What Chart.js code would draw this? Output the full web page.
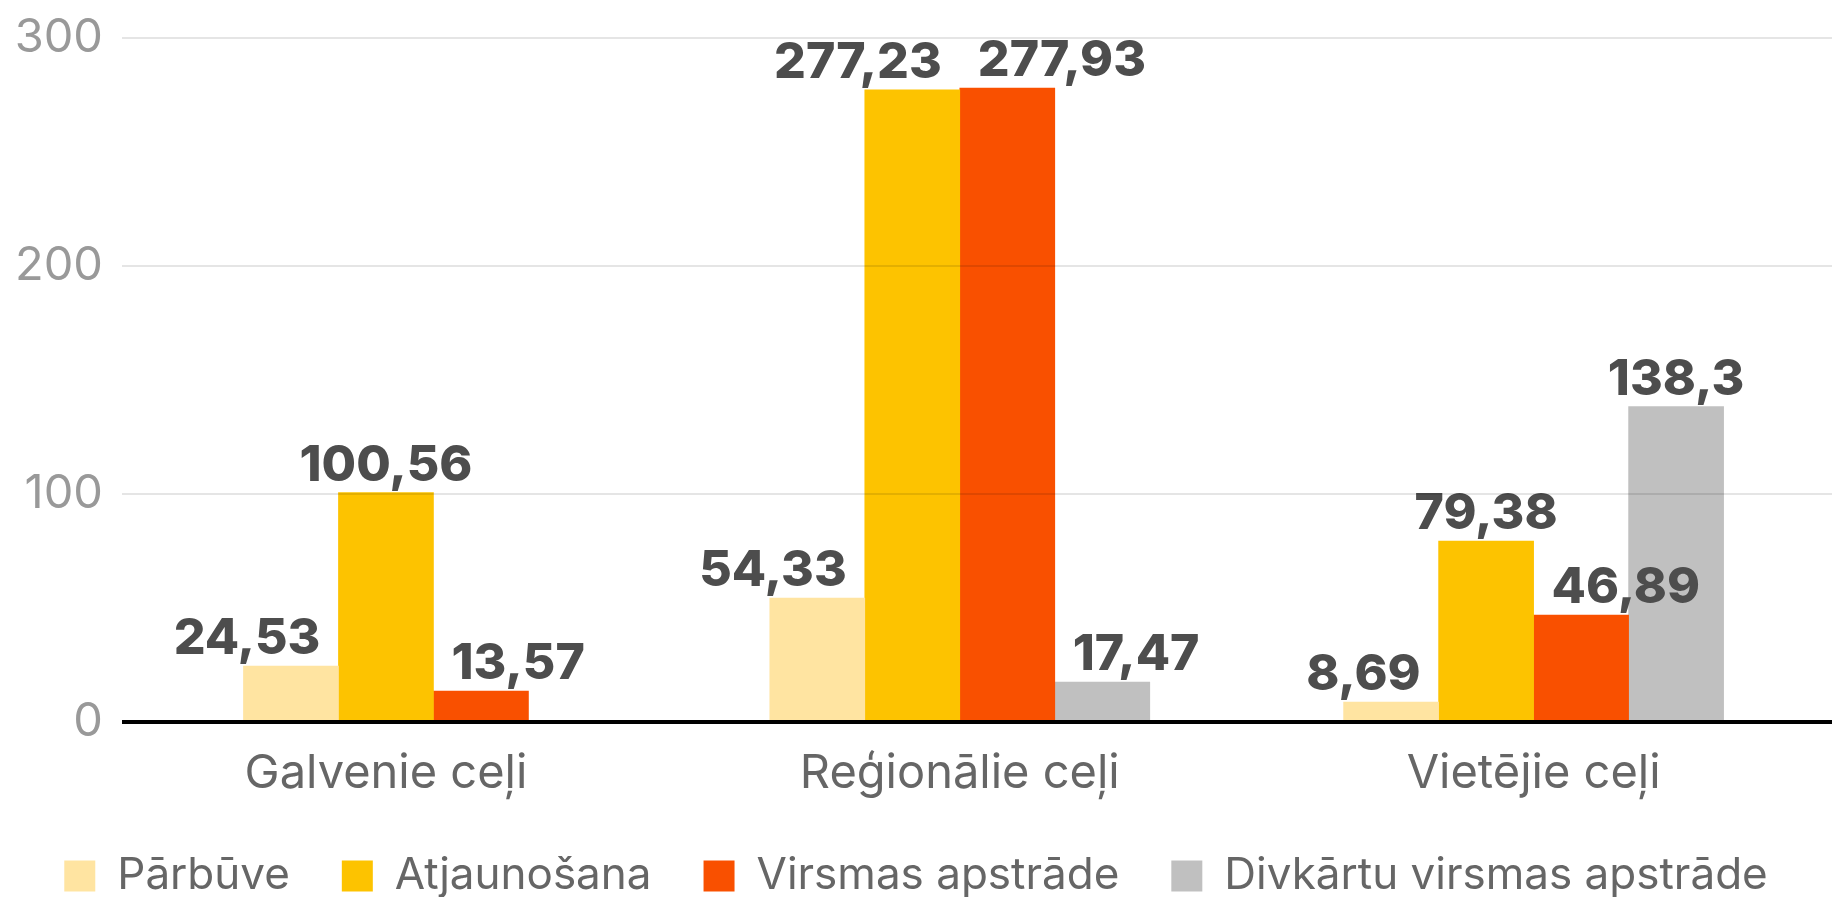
<!DOCTYPE html>
<html>
<head>
<meta charset="utf-8">
<script src="https://cdn.jsdelivr.net/npm/chart.js@4/dist/chart.umd.min.js"></script>
<style>
  html, body { margin: 0; padding: 0; background: #fff; overflow: hidden; }
  #wrap { width: 1832px; height: 897px; }
</style>
</head>
<body>
<div id="wrap"><canvas id="roadChart"></canvas></div>
<script>
// Data
const categories = ['Galvenie ceļi', 'Reģionālie ceļi', 'Vietējie ceļi'];
const seriesNames = ['Pārbūve', 'Atjaunošana', 'Virsmas apstrāde', 'Divkārtu virsmas apstrāde'];
const parbuve = [24.53, 54.33, 8.69];
const atjaunosana = [100.56, 277.23, 79.38];
const virsmasApstrade = [13.57, 277.93, 46.89];
const divkartuApstrade = [null, 17.47, 138.3];
const yTicks = [0, 100, 200, 300];

const colors = ['#FFE4A1', '#FDC300', '#F95000', '#C0C0C0'];
const allSeries = [parbuve, atjaunosana, virsmasApstrade, divkartuApstrade];

const fmt = v => String(v).replace('.', ',');

// Value labels above bars, nudged sideways when a taller neighbour is in the way
const barLabels = {
    id: 'barLabels',
    afterDatasetsDraw(chart) {
        const ctx = chart.ctx;
        const lift = 12;
        const gap = 18;
        ctx.save();
        ctx.font = '800 50px Inter, "DejaVu Sans", sans-serif';
        ctx.fillStyle = '#4d4d4d';
        ctx.textAlign = 'center';
        ctx.textBaseline = 'alphabetic';

        categories.forEach((cat, i) => {
            const bars = [];
            chart.data.datasets.forEach((ds, d) => {
                const v = allSeries[d][i];
                if (v === null) return;
                const el = chart.getDatasetMeta(d).data[i];
                bars.push({ x: el.x, y: el.y, w: el.width, text: fmt(v) });
            });
            bars.forEach((b, k) => {
                const tw = ctx.measureText(b.text).width;
                const left = bars[k - 1];
                const right = bars[k + 1];
                let cx = b.x;
                if (left && left.y < b.y + lift && cx - tw / 2 < left.x + left.w / 2 + gap) {
                    cx = left.x + left.w / 2 + gap + tw / 2;
                } else if (right && right.y < b.y + lift && cx + tw / 2 > right.x - right.w / 2 - gap) {
                    cx = right.x - right.w / 2 - gap - tw / 2;
                }
                ctx.fillText(b.text, cx, b.y - lift);
            });
        });
        ctx.restore();
    }
};

const ctx = document.getElementById('roadChart').getContext('2d');

new Chart(ctx, {
    type: 'bar',
    data: {
        datasets: allSeries.map((vals, d) => ({
            label: seriesNames[d],
            data: vals.map((v, i) => ({ x: i, y: v })),
            backgroundColor: colors[d],
            borderWidth: 0,
            barThickness: 95,
            skipNull: true
        }))
    },
    options: {
        responsive: true,
        maintainAspectRatio: false,
        animation: false,
        layout: { padding: { top: 0, right: 0, bottom: -11, left: 0 } },
        scales: {
            x: {
                type: 'linear',
                min: -0.46,
                max: 2.52,
                offset: false,
                grid: { display: false, offset: false },
                border: { display: false },
                afterBuildTicks: scale => {
                    scale.ticks = categories.map((c, i) => ({ value: i }));
                },
                afterFit: scale => { scale.height = 80; },
                ticks: {
                    autoSkip: false,
                    maxRotation: 0,
                    padding: 34,
                    color: '#666',
                    font: { family: 'Inter', size: 47, lineHeight: 0.42 },
                    callback: v => categories[v]
                }
            },
            y: {
                min: 0,
                max: 300,
                afterBuildTicks: scale => {
                    scale.ticks = yTicks.map(v => ({ value: v }));
                },
                afterFit: scale => { scale.width = 122; },
                border: { display: false },
                grid: {
                    z: 1,
                    drawTicks: false,
                    color: c => c.tick.value === 0 ? '#000' : 'rgba(0,0,0,0.1)',
                    lineWidth: c => c.tick.value === 0 ? 4 : 2
                },
                ticks: {
                    padding: 19,
                    color: '#999',
                    font: { family: 'Inter', size: 47, lineHeight: 0.8 }
                }
            }
        },
        plugins: {
            legend: {
                position: 'bottom',
                labels: {
                    boxWidth: 31,
                    boxHeight: 31,
                    padding: 52,
                    color: '#666',
                    font: { family: 'Inter', size: 44 }
                }
            },
            tooltip: { enabled: false }
        }
    },
    plugins: [barLabels]
});
</script>
</body>
</html>
